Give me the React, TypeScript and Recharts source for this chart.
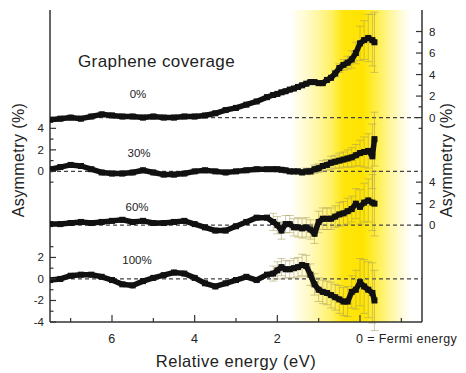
import {
  ErrorBar,
  Line,
  LineChart,
  ReferenceArea,
  ReferenceLine,
  XAxis,
  YAxis,
} from "recharts";

// relative energy (eV), shared by all four coverages
const energy = [
  7.5, 7.25, 7.0, 6.75, 6.5, 6.25, 6.0, 5.75, 5.5, 5.25, 5.0, 4.75, 4.5, 4.25,
  4.0, 3.75, 3.5, 3.25, 3.0, 2.75, 2.5, 2.25, 2.1, 2.0, 1.9, 1.8, 1.7, 1.6, 1.5,
  1.4, 1.3, 1.2, 1.1, 1.0, 0.9, 0.8, 0.7, 0.6, 0.5, 0.4, 0.3, 0.2, 0.1, 0.0,
  -0.1, -0.2, -0.3, -0.35,
];

// asymmetry (%) per graphene coverage
const cov0 = [
  -0.2, -0.1, 0.0, -0.1, 0.1, 0.3, 0.2, 0.1, 0.1, 0.0, 0.1, 0.0, 0.0, 0.1, 0.1,
  0.2, 0.4, 0.7, 0.9, 1.2, 1.5, 1.9, 2.1, 2.2, 2.35, 2.45, 2.6, 2.7, 2.85, 3.0,
  3.15, 3.3, 3.3, 3.2, 3.2, 3.5, 3.7, 4.1, 4.6, 4.9, 5.1, 5.4, 6.0, 6.9, 7.2,
  7.4, 7.2, 7.0,
];
const cov30 = [
  0.2, 0.4, 0.6, 0.5, 0.2, -0.1, -0.2, -0.2, -0.1, 0.1, -0.1, -0.3, -0.3, -0.2,
  0.0, 0.1, 0.0, -0.1, 0.0, 0.1, 0.2, 0.2, 0.2, 0.2, 0.15, 0.1, 0.0, 0.0, 0.0,
  -0.1, 0.0, 0.0, 0.2, 0.3, 0.5, 0.6, 0.8, 0.9, 1.0, 1.1, 1.2, 1.3, 1.5, 1.7,
  1.8, 1.9, 1.4, 3.0,
];
const cov60 = [
  0.1, 0.1, 0.2, 0.3, 0.2, 0.3, 0.4, 0.5, 0.3, 0.4, 0.2, 0.2, 0.3, 0.4, 0.1,
  -0.2, -0.5, -0.5, -0.1, 0.3, 0.7, 0.7, 0.3, 0.0, -0.5, 0.1, 0.1, -0.2, -0.2,
  -0.3, -0.2, -0.4, -0.8, 0.3, 0.6, 0.6, 0.6, 0.8, 1.0, 1.1, 1.3, 1.5, 2.0, 1.7,
  2.1, 2.3, 2.1, 2.0,
];
const cov100 = [
  -0.1, 0.0, 0.3, 0.4, 0.4, 0.2, -0.1, -0.5, -0.6, -0.2, 0.1, 0.35, 0.6, 0.5,
  0.1, -0.4, -0.7, -0.4, -0.1, 0.2, -0.1, 0.4, 0.5, 0.8, 1.1, 0.9, 0.9, 1.0,
  1.1, 1.3, 1.2, 0.4, -0.5, -1.0, -1.2, -1.3, -1.5, -1.7, -1.9, -2.1, -2.1,
  -1.2, -1.0, -0.3, -0.7, -1.0, -1.3, -2.0,
];

// error bars, only for the last 26 points (2.1 eV .. -0.35 eV)
const err0 = [
  0, 0, 0, 0, 0, 0, 0, 0, 0, 0, 0, 0, 0, 0, 0, 0.3, 0.4, 0.5, 0.6, 0.8, 1.0,
  1.6, 1.8, 2.2, 2.4, 2.8,
];
const err30 = [
  0, 0, 0, 0, 0, 0, 0, 0.2, 0.3, 0.3, 0.4, 0.4, 0.5, 0.5, 0.6, 0.6, 0.7, 0.7,
  0.8, 0.9, 1.0, 1.2, 1.4, 1.6, 3.0, 2.5,
];
const err60 = [
  0.8, 0.8, 0.8, 0.8, 0.8, 0.8, 0.9, 0.9, 0.9, 0.9, 0.9, 1.0, 1.0, 1.0, 1.0,
  1.0, 1.1, 1.1, 1.2, 1.2, 1.4, 1.6, 1.8, 2.0, 2.6, 3.0,
];
const err100 = [
  0.7, 0.8, 0.8, 0.8, 0.8, 0.9, 0.9, 1.0, 1.0, 1.0, 1.0, 1.1, 1.1, 1.1, 1.2,
  1.2, 1.3, 1.3, 1.4, 1.5, 1.8, 2.2, 2.5, 2.6, 2.8, 2.8,
];

const coverageLabels = ["0%", "30%", "60%", "100%"];
const stackOffsets = [15, 10, 5, 0];

const bottomTicks = [7, 6, 5, 4, 3, 2, 1, 0, -1];
const bottomTickLabels = ["", "6", "", "4", "", "2", "", "0 = Fermi energy", ""];
const topTicks = [7, 6.5, 6, 5.5, 5, 4.5, 4, 3.5, 3, 2.5, 2, 1.5, 1, 0.5, 0, -0.5, -1];
const leftTicks = [14, 13, 12, 11, 10, 9, 3, 2, 1, 0, -1, -2, -3, -4];
const leftTickLabels = ["4", "", "2", "", "0", "", "", "2", "", "0", "", "-2", "", "-4"];
const rightTicks = [23, 22, 21, 20, 19, 18, 17, 16, 15, 14, 9, 8, 7, 6, 5, 4];
const rightTickLabels = ["8", "", "6", "", "4", "", "2", "", "0", "", "4", "", "2", "", "0", ""];

const W = 466;
const H = 373;
const FONT = "'Liberation Sans', Arial, sans-serif";
const INK = "#222";
const AXIS = "#333";

const series = [cov0, cov30, cov60, cov100].map((vals, s) => {
  const errs = [err0, err30, err60, err100][s];
  const tailStart = energy.length - errs.length;
  return energy.map((e, i) => ({
    e,
    y: vals[i] + stackOffsets[s],
    err: i >= tailStart ? errs[i - tailStart] : 0,
  }));
});

function LeftTick(props: any) {
  const { x, y, payload } = props;
  const label = leftTickLabels[leftTicks.indexOf(payload.value)];
  return (
    <g>
      <line x1={x} x2={x + (label ? 6 : 3.5)} y1={y} y2={y} stroke={AXIS} strokeWidth={1.2} />
      {label && (
        <text x={x - 6} y={y + 4} textAnchor="end" fontSize={11.5} fill={INK} fontFamily={FONT}>
          {label}
        </text>
      )}
    </g>
  );
}

function RightTick(props: any) {
  const { x, y, payload } = props;
  const label = rightTickLabels[rightTicks.indexOf(payload.value)];
  return (
    <g>
      <line x1={x} x2={x - (label ? 6 : 3.5)} y1={y} y2={y} stroke={AXIS} strokeWidth={1.2} />
      {label && (
        <text x={x + 7} y={y + 4} textAnchor="start" fontSize={11.5} fill={INK} fontFamily={FONT}>
          {label}
        </text>
      )}
    </g>
  );
}

function BottomTick(props: any) {
  const { x, y, payload } = props;
  const label = bottomTickLabels[bottomTicks.indexOf(payload.value)];
  const long = label !== "";
  return (
    <g>
      <line x1={x} x2={x} y1={y} y2={y - (long ? 7 : 4)} stroke={AXIS} strokeWidth={1.2} />
      {long && (
        <text
          x={payload.value === 0 ? x - 4 : x}
          y={y + 21}
          textAnchor={payload.value === 0 ? "start" : "middle"}
          fontSize={12.5}
          letterSpacing={0.4}
          fill={INK}
          fontFamily={FONT}
        >
          {label}
        </text>
      )}
    </g>
  );
}

function TopTick(props: any) {
  const { x, y } = props;
  return <line x1={x} x2={x} y1={y} y2={y + 5} stroke={AXIS} strokeWidth={1.2} />;
}

function SquareDot(props: any) {
  const { cx, cy, index } = props;
  return <rect key={index} x={cx - 3} y={cy - 3} width={6} height={6} fill="#111" />;
}

export default function App() {
  return (
    <div style={{ position: "absolute", left: 0, top: 0, width: W, height: H, background: "#fff" }}>
      <LineChart width={W} height={H} margin={{ top: 10, right: 0, bottom: 0, left: 0 }}>
        <defs>
          <linearGradient id="fermiGlow" x1="0" y1="0" x2="1" y2="0">
            <stop offset="0" stopColor="#ffe800" stopOpacity={0} />
            <stop offset="0.17" stopColor="#ffe800" stopOpacity={0.25} />
            <stop offset="0.34" stopColor="#ffe800" stopOpacity={0.6} />
            <stop offset="0.44" stopColor="#ffe400" stopOpacity={0.95} />
            <stop offset="0.6" stopColor="#ffe400" stopOpacity={1} />
            <stop offset="0.7" stopColor="#ffe800" stopOpacity={0.75} />
            <stop offset="0.82" stopColor="#ffe800" stopOpacity={0.4} />
            <stop offset="0.94" stopColor="#ffe800" stopOpacity={0.1} />
            <stop offset="1" stopColor="#ffe800" stopOpacity={0} />
          </linearGradient>
        </defs>
        <XAxis
          dataKey="e"
          type="number"
          domain={[-1.5, 7.5]}
          reversed
          allowDataOverflow
          ticks={bottomTicks}
          interval={0}
          height={51}
          tickSize={0}
          tickMargin={0}
          tickLine={false}
          axisLine={{ stroke: AXIS, strokeWidth: 1.5 }}
          tick={<BottomTick />}
        />
        <XAxis
          xAxisId="top"
          orientation="top"
          dataKey="e"
          type="number"
          domain={[-1.5, 7.5]}
          reversed
          allowDataOverflow
          ticks={topTicks}
          interval={0}
          height={0}
          tickSize={0}
          tickMargin={0}
          tickLine={false}
          axisLine={{ stroke: AXIS, strokeWidth: 1.5 }}
          tick={<TopTick />}
        />
        <YAxis
          yAxisId="left"
          type="number"
          domain={[-4, 25]}
          allowDataOverflow
          ticks={leftTicks}
          interval={0}
          width={50}
          tickSize={0}
          tickMargin={0}
          tickLine={false}
          axisLine={{ stroke: AXIS, strokeWidth: 1.5 }}
          tick={<LeftTick />}
        />
        <YAxis
          yAxisId="right"
          orientation="right"
          type="number"
          domain={[-4, 25]}
          allowDataOverflow
          ticks={rightTicks}
          interval={0}
          width={44}
          tickSize={0}
          tickMargin={0}
          tickLine={false}
          axisLine={{ stroke: AXIS, strokeWidth: 1.5 }}
          tick={<RightTick />}
        />
        <ReferenceArea
          yAxisId="left"
          x1={1.7}
          x2={-1.25}
          fill="url(#fermiGlow)"
          fillOpacity={1}
          stroke="none"
        />
        {stackOffsets.map((off) => (
          <ReferenceLine
            key={off}
            yAxisId="left"
            y={off}
            stroke="#444"
            strokeWidth={1.2}
            strokeDasharray="4 3"
          />
        ))}
        {series.map((data, s) => (
          <Line
            key={coverageLabels[s]}
            yAxisId="left"
            data={data}
            dataKey="y"
            name={coverageLabels[s]}
            type="linear"
            stroke="#111"
            strokeWidth={5.5}
            strokeLinejoin="round"
            dot={<SquareDot />}
            activeDot={false}
            isAnimationActive={false}
          >
            <ErrorBar
              dataKey="err"
              direction="y"
              width={4}
              stroke="#a89c5c"
              strokeOpacity={0.6}
              strokeWidth={0.9}
              isAnimationActive={false}
            />
          </Line>
        ))}
      </LineChart>
      <svg
        width={W}
        height={H}
        style={{ position: "absolute", left: 0, top: 0, pointerEvents: "none" }}
        fontFamily={FONT}
        fill={INK}
      >
        <text x={78} y={67} fontSize={17} letterSpacing={0.4}>
          Graphene coverage
        </text>
        <text x={138} y={98} fontSize={11.5} textAnchor="middle">{coverageLabels[0]}</text>
        <text x={139} y={157} fontSize={11.5} textAnchor="middle">{coverageLabels[1]}</text>
        <text x={137} y={211} fontSize={11.5} textAnchor="middle">{coverageLabels[2]}</text>
        <text x={137} y={264} fontSize={11.5} textAnchor="middle">{coverageLabels[3]}</text>
        <text x={236} y={367} fontSize={16.5} letterSpacing={0.5} textAnchor="middle">
          Relative energy (eV)
        </text>
        <text
          x={0}
          y={0}
          fontSize={16}
          letterSpacing={0.4}
          textAnchor="middle"
          transform="translate(24 160) rotate(-90)"
        >
          Asymmetry (%)
        </text>
        <text
          x={0}
          y={0}
          fontSize={16}
          letterSpacing={0.4}
          textAnchor="middle"
          transform="translate(452 160) rotate(-90)"
        >
          Asymmetry (%)
        </text>
      </svg>
    </div>
  );
}
